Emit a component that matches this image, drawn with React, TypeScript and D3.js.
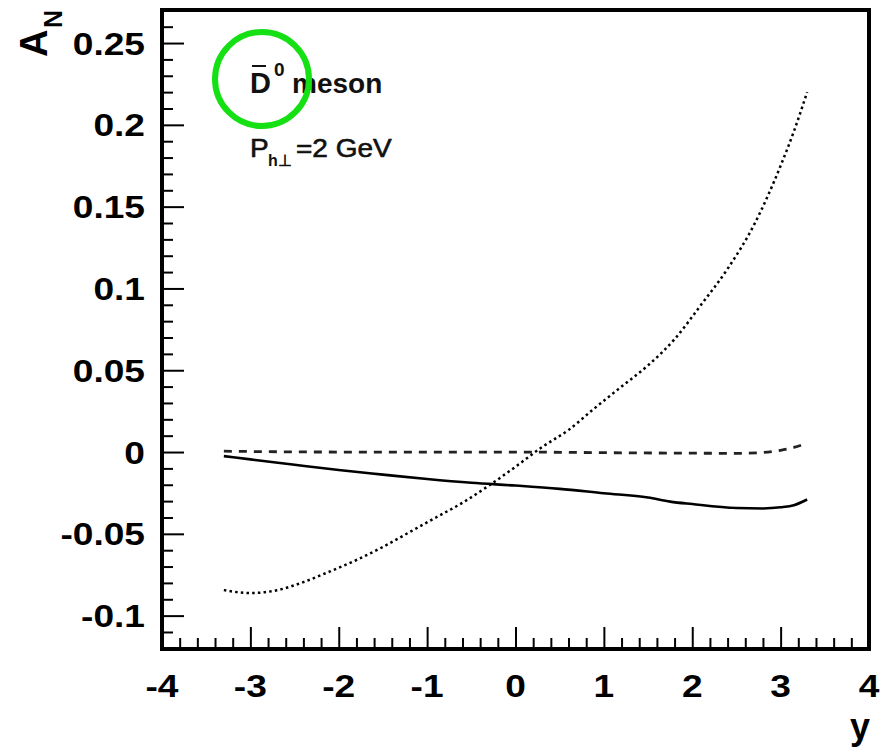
import React, { useRef, useEffect } from 'react';
import * as d3 from 'd3';

// solid curve
const solidX = [-3.3, -3, -2.5, -2, -1.5, -1, -0.5, 0, 0.5, 1, 1.5, 1.75, 2, 2.5, 2.8, 3.0, 3.15, 3.3];
const solidY = [-0.0025, -0.0045, -0.0078, -0.011, -0.0138, -0.0165, -0.0188, -0.0205, -0.0225, -0.0252, -0.0278, -0.0303, -0.0318, -0.0342, -0.0345, -0.0338, -0.0325, -0.029];

// dashed curve
const dashX = [-3.3, -2, -1, 0, 1, 2, 2.5, 2.8, 3.0, 3.15, 3.3];
const dashY = [0.0005, 0, 0, 0, -0.0004, -0.0007, -0.0008, -0.0003, 0.001, 0.0028, 0.0055];

// dotted curve
const dotX = [-3.3, -3.0, -2.7, -2.4, -2.1, -1.8, -1.5, -1.2, -0.9, -0.6, -0.3, 0, 0.3, 0.6, 0.9, 1.2, 1.5, 1.8, 2.1, 2.4, 2.7, 3.0, 3.15, 3.3];
const dotY = [-0.0844, -0.0862, -0.0845, -0.0795, -0.073, -0.066, -0.058, -0.049, -0.04, -0.031, -0.0205, -0.009, 0.003, 0.0135, 0.027, 0.04, 0.053, 0.069, 0.09, 0.112, 0.139, 0.175, 0.196, 0.22];

const xTicks = [-4, -3, -2, -1, 0, 1, 2, 3, 4];
const yTicks = [-0.1, -0.05, 0, 0.05, 0.1, 0.15, 0.2, 0.25];
const yTickLabels = ['-0.1', '-0.05', '0', '0.05', '0.1', '0.15', '0.2', '0.25'];

const FONT = '"Liberation Sans", Arial, Helvetica, sans-serif';

const App = () => {
  const ref = useRef<SVGSVGElement>(null);

  useEffect(() => {
    const svg = d3.select(ref.current);
    svg.selectAll('*').remove();

    const left = 162;
    const right = 869;
    const top = 10;
    const bottom = 649;

    const x = d3.scaleLinear().domain([-4, 4]).range([left, right]);
    const y = d3.scaleLinear().domain([-0.1204, 0.2702]).range([bottom, top]);

    // minor + major ticks, pointing inward
    const xMinor = d3.range(-4, 4.001, 0.2).map((v) => Math.round(v * 10) / 10).filter((v) => Math.abs(v - Math.round(v)) > 1e-6);
    const yMinor = d3.range(-0.12, 0.27, 0.01).map((v) => Math.round(v * 100) / 100).filter((v) => Math.abs(v * 20 - Math.round(v * 20)) > 1e-6 && y(v) < bottom && y(v) > top);

    const xAxisMajor = svg
      .append('g')
      .attr('transform', `translate(0,${bottom})`)
      .call(d3.axisBottom(x).tickValues(xTicks.filter((v) => v > -4 && v < 4)).tickSize(-22).tickFormat(() => ''));
    const xAxisMinor = svg
      .append('g')
      .attr('transform', `translate(0,${bottom})`)
      .call(d3.axisBottom(x).tickValues(xMinor).tickSize(-11).tickFormat(() => ''));
    const yAxisMajor = svg
      .append('g')
      .attr('transform', `translate(${left},0)`)
      .call(d3.axisLeft(y).tickValues(yTicks).tickSize(-22).tickFormat(() => ''));
    const yAxisMinor = svg
      .append('g')
      .attr('transform', `translate(${left},0)`)
      .call(d3.axisLeft(y).tickValues(yMinor).tickSize(-11).tickFormat(() => ''));

    [xAxisMajor, xAxisMinor, yAxisMajor, yAxisMinor].forEach((g) => {
      g.select('.domain').remove();
      g.selectAll('line').attr('stroke', '#000').attr('stroke-width', 2);
    });

    // frame
    svg
      .append('rect')
      .attr('x', left)
      .attr('y', top)
      .attr('width', right - left)
      .attr('height', bottom - top)
      .attr('fill', 'none')
      .attr('stroke', '#000')
      .attr('stroke-width', 4);

    // tick labels
    svg
      .append('g')
      .selectAll('text')
      .data(xTicks)
      .enter()
      .append('text')
      .attr('transform', (d) => `translate(${x(d)},697) scale(1.16,1)`)
      .attr('text-anchor', 'middle')
      .attr('font-family', FONT)
      .attr('font-weight', 'bold')
      .attr('font-size', 32)
      .text((d) => String(d));

    svg
      .append('g')
      .selectAll('text')
      .data(yTicks)
      .enter()
      .append('text')
      .attr('transform', (d) => `translate(145,${y(d) + 11.5}) scale(1.16,1)`)
      .attr('text-anchor', 'end')
      .attr('font-family', FONT)
      .attr('font-weight', 'bold')
      .attr('font-size', 32)
      .text((d, i) => yTickLabels[i]);

    // axis titles
    svg
      .append('text')
      .attr('x', 870)
      .attr('y', 739)
      .attr('text-anchor', 'end')
      .attr('font-family', FONT)
      .attr('font-weight', 'bold')
      .attr('font-size', 36)
      .text('y');

    svg
      .append('text')
      .attr('transform', 'translate(47,57) rotate(-90)')
      .attr('font-family', FONT)
      .attr('font-weight', 'bold')
      .attr('font-size', 38)
      .text('A');
    svg
      .append('text')
      .attr('transform', 'translate(62,28) rotate(-90)')
      .attr('font-family', FONT)
      .attr('font-weight', 'bold')
      .attr('font-size', 25)
      .text('N');

    // curves
    const line = d3
      .line<[number, number]>()
      .x((d) => x(d[0]))
      .y((d) => y(d[1]))
      .curve(d3.curveMonotoneX);

    svg
      .append('path')
      .attr('d', line(solidX.map((v, i) => [v, solidY[i]]))!)
      .attr('fill', 'none')
      .attr('stroke', '#000')
      .attr('stroke-width', 2.6);

    svg
      .append('path')
      .attr('d', line(dashX.map((v, i) => [v, dashY[i]]))!)
      .attr('fill', 'none')
      .attr('stroke', '#222')
      .attr('stroke-width', 2.8)
      .attr('stroke-dasharray', '8,7');

    svg
      .append('path')
      .attr('d', line(dotX.map((v, i) => [v, dotY[i]]))!)
      .attr('fill', 'none')
      .attr('stroke', '#000')
      .attr('stroke-width', 2.5)
      .attr('stroke-dasharray', '2.5,3.2');

    // annotations
    const ann = svg.append('g').attr('font-family', FONT).attr('fill', '#111');
    ann.append('text').attr('x', 250).attr('y', 93).attr('font-weight', 'bold').attr('font-size', 29).text('D');
    ann.append('line').attr('x1', 252).attr('x2', 266).attr('y1', 66).attr('y2', 66).attr('stroke', '#111').attr('stroke-width', 2);
    ann.append('text').attr('x', 274).attr('y', 76).attr('font-weight', 'bold').attr('font-size', 19).text('0');
    ann.append('text').attr('x', 292).attr('y', 93).attr('font-weight', 'bold').attr('font-size', 28).text('meson');

    const pLine = ann.append('g').attr('stroke', '#111').attr('stroke-width', 0.6);
    pLine.append('text').attr('transform', 'translate(250,157) scale(1.12,1)').attr('font-size', 25).text('P');
    pLine.append('text').attr('transform', 'translate(268,166)').attr('font-weight', 'bold').attr('font-size', 16).attr('stroke-width', 0).text('h⊥');
    pLine.append('text').attr('transform', 'translate(296,157) scale(1.12,1)').attr('font-size', 25).text('=2 GeV');

    // green highlight circle
    svg
      .append('circle')
      .attr('cx', 262)
      .attr('cy', 79)
      .attr('r', 47)
      .attr('fill', 'none')
      .attr('stroke', '#14e014')
      .attr('stroke-width', 6);
  }, []);

  return <svg ref={ref} width={889} height={753} style={{ position: 'absolute', left: 0, top: 0, background: '#fff' }}></svg>;
};

export default App;
